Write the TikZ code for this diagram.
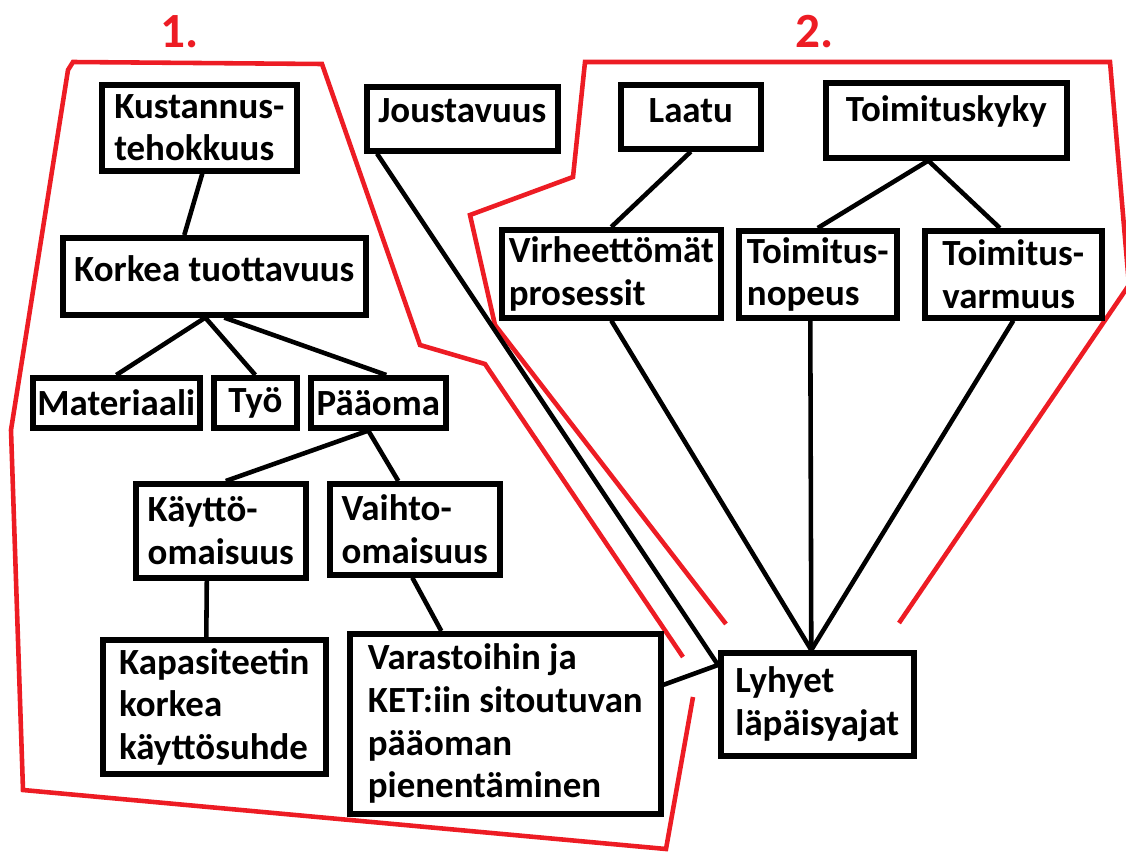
\documentclass[tikz,border=0pt]{standalone}
\usepackage{fontspec}
\setmainfont{Carlito}
\usepackage{xcolor}
\usepackage{tikz}
\definecolor{paintred}{RGB}{237,28,36}

\begin{document}
\begin{tikzpicture}[x=0.02cm, y=-0.02cm]
    \tikzstyle{box} = [rectangle, draw=black, line width=3.2pt, fill=white, anchor=north west, align=left, inner sep=0pt, font=\fontsize{21}{24.3}\selectfont\bfseries]
    \tikzstyle{link} = [draw=black, line width=2.6pt]
    \tikzstyle{zone} = [draw=paintred, line width=2.6pt, line join=miter]
    \tikzstyle{zonelabel} = [text=paintred, font=\fontsize{28}{28}\selectfont\bfseries]

    \useasboundingbox (0,0) rectangle (1126,852);

    % Group 1 and group 2 outlines
    \draw[zone] (683,657) -- (485,364) -- (420,345) -- (322,64) -- (73,62) -- (68,70) -- (11,430) -- (23,790) -- (666,849) -- (693,697);
    \draw[zone] (726,624) -- (495,325) -- (470,215) -- (573,177) -- (585,62) -- (1110,62) -- (1129,285) -- (899,623);
    \node (one) [zonelabel] at (180,32) {1.};
    \node (two) [zonelabel] at (815,32) {2.};

    % Nodes
    \node (kust) [box, minimum width=3.9cm, minimum height=1.72cm] at (99,82) {Kustannus-\\tehokkuus};
    \node (korkea) [box, minimum width=6.06cm, minimum height=1.54cm, text depth=9pt] at (60,235) {Korkea tuottavuus};
    \node (materiaali) [box, minimum width=3.34cm, minimum height=1.0cm] at (30,375) {Materiaali};
    \node (tyo) [box, minimum width=1.66cm, minimum height=1.0cm] at (211,375) {Työ};
    \node (paaoma) [box, minimum width=2.7cm, minimum height=1.0cm] at (308,375) {Pääoma};
    \node (kaytto) [box, minimum width=3.4cm, minimum height=1.88cm] at (133,481) {Käyttö-\\omaisuus};
    \node (vaihto) [box, minimum width=3.4cm, minimum height=1.82cm] at (327,481) {Vaihto-\\omaisuus};
    \node (kapasit) [box, minimum width=4.46cm, minimum height=2.68cm] at (100,637) {Kapasiteetin\\korkea\\käyttösuhde};
    \node (varasto) [box, minimum width=6.22cm, minimum height=3.6cm] at (347,631) {Varastoihin ja\\KET:iin sitoutuvan\\pääoman\\pienentäminen};
    \node (jousto) [box, minimum width=3.82cm, minimum height=1.28cm, text depth=9pt] at (364,84) {Joustavuus};
    \node (laatu) [box, minimum width=2.8cm, minimum height=1.28cm, text depth=7pt] at (618,82) {Laatu};
    \node (toimkyky) [box, minimum width=4.82cm, minimum height=1.5cm, text depth=13pt] at (823,80) {Toimituskyky};
    \node (virhe) [box, minimum width=4.38cm, minimum height=1.76cm] at (499,227) {Virheettömät\\prosessit};
    \node (nopeus) [box, minimum width=3.16cm, minimum height=1.74cm] at (736,228) {Toimitus-\\nopeus};
    \node (varmuus) [box, minimum width=3.54cm, minimum height=1.74cm] at (922,228) {Toimitus-\\varmuus};
    \node (lyhyet) [box, minimum width=3.86cm, minimum height=2.06cm] at (718,650) {Lyhyet\\läpäisyajat};

    % Connections
    \draw[link] ([xshift=0.06cm]kust.south) -- ([xshift=-0.6cm]korkea.north);
    \draw[link] ([xshift=-0.18cm]korkea.south) -- (materiaali.north);
    \draw[link] ([xshift=-0.18cm]korkea.south) -- (tyo.north);
    \draw[link] ([xshift=0.2cm]korkea.south) -- ([xshift=0.16cm]paaoma.north);
    \draw[link] ([xshift=-0.2cm]paaoma.south) -- ([xshift=0.1cm]kaytto.north);
    \draw[link] ([xshift=-0.2cm]paaoma.south) -- ([xshift=-0.33cm]vaihto.north);
    \draw[link] ([xshift=-0.28cm]kaytto.south) -- ([xshift=-0.16cm]kapasit.north);
    \draw[link] ([xshift=-0.05cm]vaihto.south) -- ([xshift=-1.28cm]varasto.north);
    \draw[link] ([yshift=0.78cm]varasto.east) -- ([yshift=-0.3cm]lyhyet.north west);
    \draw[link] ([xshift=0.26cm]jousto.south west) -- ([yshift=-0.3cm]lyhyet.north west);
    \draw[link] (laatu.south) -- (virhe.north);
    \draw[link] ([xshift=-0.36cm]toimkyky.south) -- (nopeus.north);
    \draw[link] ([xshift=-0.36cm]toimkyky.south) -- ([xshift=-0.27cm]varmuus.north);
    \draw[link] (virhe.south) -- ([xshift=-0.12cm]lyhyet.north);
    \draw[link] ([xshift=-0.15cm]nopeus.south) -- ([xshift=-0.12cm]lyhyet.north);
    \draw[link] (varmuus.south) -- ([xshift=-0.12cm]lyhyet.north);
\end{tikzpicture}
\end{document}
